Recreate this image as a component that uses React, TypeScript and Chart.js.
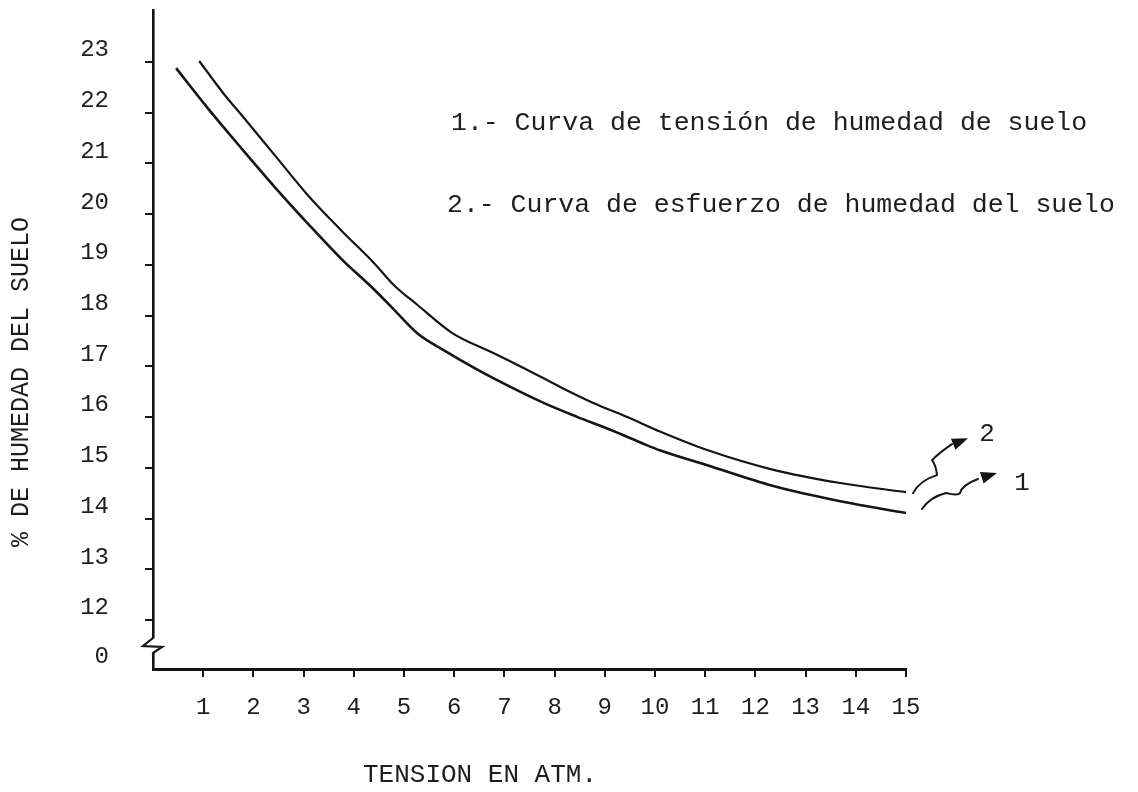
import React, { useEffect, useRef } from 'react';
import { Chart, registerables } from 'chart.js';

Chart.register(...registerables);

// ---- data ----
const xTickValues = [1, 2, 3, 4, 5, 6, 7, 8, 9, 10, 11, 12, 13, 14, 15];
const yTickValues = [12, 13, 14, 15, 16, 17, 18, 19, 20, 21, 22, 23];
const yBreakLabel = '0';

// Curva 1: tensión de humedad de suelo
const curve1X = [0.46, 1.09, 1.76, 2.42, 3.08, 3.74, 4.41, 4.8, 5.27, 5.79, 6.47, 7.13, 7.78, 8.46, 9.11, 9.71, 10.11, 11.04, 12.36, 13.69, 15.0];
const curve1Y = [22.88, 22.09, 21.3, 20.54, 19.82, 19.13, 18.51, 18.12, 17.65, 17.32, 16.93, 16.59, 16.28, 16.0, 15.75, 15.5, 15.34, 15.05, 14.64, 14.34, 14.11];

// Curva 2: esfuerzo de humedad del suelo
const curve2X = [0.92, 1.42, 1.76, 2.42, 3.08, 3.74, 4.41, 4.8, 5.27, 5.97, 6.79, 7.46, 8.12, 8.77, 9.45, 10.11, 11.04, 12.36, 13.69, 15.0];
const curve2Y = [23.02, 22.36, 21.96, 21.17, 20.38, 19.69, 19.03, 18.6, 18.21, 17.65, 17.26, 16.93, 16.59, 16.28, 16.0, 15.71, 15.35, 14.96, 14.7, 14.52];

const legendLines = [
  '1.- Curva de tensión de humedad de suelo',
  '2.- Curva de esfuerzo de humedad del suelo',
];
const xTitle = 'TENSION EN ATM.';
const yTitle = '% DE HUMEDAD DEL SUELO';

const X_MIN = 0;
const X_MAX = 15;
const Y_MIN = 11.034;
const Y_MAX = 24.025;

const INK = '#151515';
const TEXT = '#1e1e1e';
const FONT = '"Liberation Mono", "DejaVu Sans Mono", monospace';

function drawArrowHead(ctx: CanvasRenderingContext2D, fx: number, fy: number, tx: number, ty: number) {
  const ang = Math.atan2(ty - fy, tx - fx);
  const len = 16;
  const half = 6;
  ctx.beginPath();
  ctx.moveTo(tx, ty);
  ctx.lineTo(tx - len * Math.cos(ang) + half * Math.sin(ang), ty - len * Math.sin(ang) - half * Math.cos(ang));
  ctx.lineTo(tx - len * Math.cos(ang) - half * Math.sin(ang), ty - len * Math.sin(ang) + half * Math.cos(ang));
  ctx.closePath();
  ctx.fill();
}

const overlayPlugin = {
  id: 'overlay',
  afterDraw(chart: any) {
    const { ctx, chartArea, scales } = chart;
    const xs = scales.x;
    const ys = scales.y;
    ctx.save();

    // axis break on the y axis
    const ax = chartArea.left;
    const by = chartArea.bottom;
    ctx.fillStyle = '#ffffff';
    ctx.fillRect(ax - 3, by - 31, 6, 14);
    ctx.strokeStyle = INK;
    ctx.lineWidth = 2.2;
    ctx.lineJoin = 'miter';
    ctx.beginPath();
    ctx.moveTo(ax, by - 33);
    ctx.lineTo(ax, by - 31);
    ctx.lineTo(ax - 10, by - 23);
    ctx.lineTo(ax + 9, by - 22);
    ctx.lineTo(ax, by - 16);
    ctx.lineTo(ax, by - 14);
    ctx.stroke();

    // legend text
    ctx.fillStyle = TEXT;
    ctx.textBaseline = 'middle';
    ctx.textAlign = 'left';
    ctx.font = `26.5px ${FONT}`;
    ctx.fillText(legendLines[0], 451, 123);
    ctx.fillText(legendLines[1], 447, 205);

    // x axis title
    ctx.textAlign = 'center';
    ctx.font = `26px ${FONT}`;
    ctx.fillText(xTitle, 480, 775);

    // y axis title
    ctx.save();
    ctx.translate(21, 382);
    ctx.rotate(-Math.PI / 2);
    ctx.font = `25px ${FONT}`;
    ctx.fillText(yTitle, 0, 0);
    ctx.restore();

    // squiggly arrows pointing to curve labels
    const e2x = xs.getPixelForValue(curve2X[curve2X.length - 1]);
    const e2y = ys.getPixelForValue(curve2Y[curve2Y.length - 1]);
    const e1x = xs.getPixelForValue(curve1X[curve1X.length - 1]);
    const e1y = ys.getPixelForValue(curve1Y[curve1Y.length - 1]);

    ctx.strokeStyle = INK;
    ctx.fillStyle = INK;
    ctx.lineWidth = 2;
    ctx.lineJoin = 'round';
    ctx.lineCap = 'round';

    // arrow 2
    ctx.beginPath();
    ctx.moveTo(e2x + 7, e2y + 1);
    ctx.quadraticCurveTo(e2x + 14, e2y - 12, e2x + 31, e2y - 17);
    ctx.quadraticCurveTo(e2x + 30, e2y - 27, e2x + 26, e2y - 32);
    ctx.quadraticCurveTo(e2x + 34, e2y - 40, e2x + 46, e2y - 48);
    ctx.stroke();
    drawArrowHead(ctx, e2x + 40, e2y - 45, e2x + 62, e2y - 54);

    // arrow 1
    ctx.beginPath();
    ctx.moveTo(e1x + 16, e1y - 4);
    ctx.quadraticCurveTo(e1x + 24, e1y - 16, e1x + 40, e1y - 20);
    ctx.quadraticCurveTo(e1x + 52, e1y - 17, e1x + 54, e1y - 20);
    ctx.quadraticCurveTo(e1x + 56, e1y - 28, e1x + 72, e1y - 34);
    ctx.stroke();
    drawArrowHead(ctx, e1x + 66, e1y - 32, e1x + 91, e1y - 40);

    ctx.textAlign = 'center';
    ctx.textBaseline = 'middle';
    ctx.fillStyle = TEXT;
    ctx.font = `26px ${FONT}`;
    ctx.fillText('2', e2x + 81, e2y - 58);
    ctx.fillText('1', e1x + 116, e1y - 30);

    ctx.restore();
  },
};

export default function App() {
  const canvasRef = useRef<HTMLCanvasElement | null>(null);

  useEffect(() => {
    const canvas = canvasRef.current;
    if (!canvas) return;
    const d1 = curve1X.map((x, i) => ({ x, y: curve1Y[i] }));
    const d2 = curve2X.map((x, i) => ({ x, y: curve2Y[i] }));

    const chart = new Chart(canvas, {
      type: 'line',
      data: {
        datasets: [
          {
            label: legendLines[0],
            data: d1,
            borderColor: INK,
            borderWidth: 2.6,
            pointRadius: 0,
            cubicInterpolationMode: 'monotone',
            fill: false,
            clip: false,
          },
          {
            label: legendLines[1],
            data: d2,
            borderColor: INK,
            borderWidth: 2.2,
            pointRadius: 0,
            cubicInterpolationMode: 'monotone',
            fill: false,
            clip: false,
          },
        ],
      },
      options: {
        animation: false,
        responsive: false,
        events: [],
        layout: { padding: { top: 10, right: 232, left: 0, bottom: 0 } },
        plugins: {
          legend: { display: false },
          tooltip: { enabled: false },
          title: { display: false },
        },
        scales: {
          x: {
            type: 'linear',
            min: X_MIN,
            max: X_MAX,
            afterBuildTicks: (s: any) => {
              s.ticks = xTickValues.map((v) => ({ value: v }));
            },
            afterFit: (s: any) => {
              s.height = 123;
              s.paddingLeft = 0;
              s.paddingRight = 0;
            },
            grid: {
              drawOnChartArea: false,
              drawTicks: true,
              tickLength: 8,
              color: INK,
              lineWidth: 2,
            },
            border: { display: true, color: INK, width: 3 },
            ticks: {
              color: TEXT,
              font: { family: FONT, size: 24 },
              padding: 16,
              maxRotation: 0,
              autoSkip: false,
              callback: (v: any) => String(v),
            },
          },
          y: {
            type: 'linear',
            min: Y_MIN,
            max: Y_MAX,
            afterBuildTicks: (s: any) => {
              s.ticks = [{ value: Y_MIN }, ...yTickValues.map((v) => ({ value: v }))];
            },
            afterFit: (s: any) => {
              s.width = 153;
              s.paddingTop = 0;
              s.paddingBottom = 0;
            },
            grid: {
              drawOnChartArea: false,
              drawTicks: true,
              tickLength: 8,
              lineWidth: 2,
              color: (c: any) => (c.tick && c.tick.value === Y_MIN ? 'rgba(0,0,0,0)' : INK),
            },
            border: { display: true, color: INK, width: 2.6 },
            ticks: {
              color: TEXT,
              font: { family: FONT, size: 24 },
              padding: 36,
              labelOffset: -12,
              autoSkip: false,
              callback: (v: any) => (v === Y_MIN ? yBreakLabel : String(v)),
            },
          },
        },
      },
      plugins: [overlayPlugin],
    });
    return () => chart.destroy();
  }, []);

  return (
    <div style={{ position: 'absolute', left: 0, top: 0, width: 1138, height: 792, background: '#fff' }}>
      <canvas ref={canvasRef} width={1138} height={792} style={{ display: 'block' }} />
    </div>
  );
}
